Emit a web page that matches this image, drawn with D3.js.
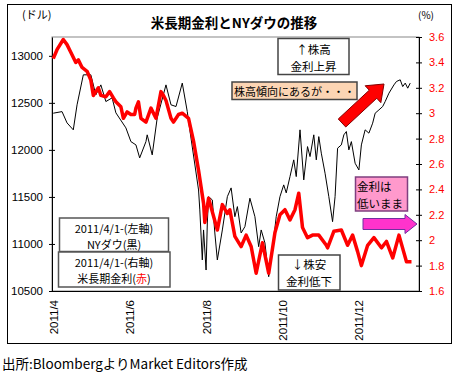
<!DOCTYPE html>
<html>
<head>
<meta charset="utf-8">
<script src="https://cdn.jsdelivr.net/npm/d3@7"></script>
<style>
  body { margin: 0; background: #fff; }
  svg text { font-family: "Liberation Sans", Arial, "Noto Sans CJK JP", sans-serif; }
  .jp { font-family: "Noto Sans CJK JP", sans-serif; }
</style>
</head>
<body>
<svg id="chart" width="456" height="376"></svg>
<script>
// NY Dow (left axis, dollars)
const dowDates = [
  '2011-04-01','2011-04-08','2011-04-12','2011-04-17','2011-04-20','2011-04-25','2011-05-01','2011-05-05',
  '2011-05-09','2011-05-13','2011-05-18','2011-05-21','2011-05-29','2011-06-02','2011-06-06','2011-06-09',
  '2011-06-14','2011-06-15','2011-06-19','2011-06-23','2011-06-30','2011-07-04','2011-07-08','2011-07-13',
  '2011-07-17','2011-07-19','2011-07-26','2011-07-27','2011-07-29','2011-07-30','2011-08-01','2011-08-02',
  '2011-08-03','2011-08-06','2011-08-08','2011-08-10','2011-08-14','2011-08-18','2011-08-21','2011-08-24',
  '2011-08-26','2011-08-29','2011-09-01','2011-09-05','2011-09-09','2011-09-12','2011-09-14','2011-09-17',
  '2011-09-20','2011-09-23','2011-09-26','2011-09-29','2011-10-02','2011-10-04','2011-10-07','2011-10-10',
  '2011-10-12','2011-10-15','2011-10-18','2011-10-21','2011-10-23','2011-10-26','2011-10-28','2011-10-30',
  '2011-11-01','2011-11-04','2011-11-07','2011-11-10','2011-11-12','2011-11-14','2011-11-17','2011-11-19',
  '2011-11-21','2011-11-23','2011-11-25','2011-11-28','2011-12-01','2011-12-03','2011-12-06','2011-12-09',
  '2011-12-12','2011-12-14','2011-12-17','2011-12-20','2011-12-22','2011-12-25','2011-12-29','2011-12-31',
  '2012-01-03','2012-01-05','2012-01-07','2012-01-09','2012-01-11'
];
const dowValues = [
  12390, 12407, 12287, 12213, 12479, 12798, 12798, 12585,
  12691, 12514, 12553, 12394, 12234, 12088, 12053, 11915,
  12088, 12160, 11947, 12340, 12691, 12479, 12461, 12710,
  12407, 12213, 11574, 11362, 10830, 11149, 10723, 11223,
  11503, 11468, 11117, 10830, 11149, 11503, 11596, 11290,
  11397, 11117, 11184, 11486, 11290, 10971, 11149, 11011,
  10652, 10936, 11290, 11503, 11628, 11543, 11716, 11894,
  11716, 12213, 11681, 12035, 11929, 12160, 11894, 12141,
  11965, 11752, 11503, 11237, 11503, 12018, 12053, 12160,
  12195, 12000, 12088, 11858, 11787, 12053, 12213, 12178,
  12284, 12390, 12425, 12461, 12514, 12603, 12691, 12727,
  12745, 12673, 12710, 12656, 12710
];

// US long-term rate (right axis, %)
const yieldDates = [
  '2011-04-01','2011-04-04','2011-04-09','2011-04-12','2011-04-15','2011-04-19','2011-04-21','2011-04-24',
  '2011-04-28','2011-05-01','2011-05-03','2011-05-07','2011-05-09','2011-05-13','2011-05-16','2011-05-19',
  '2011-05-21','2011-05-25','2011-05-27','2011-05-30','2011-06-02','2011-06-05','2011-06-06','2011-06-08',
  '2011-06-10','2011-06-14','2011-06-18','2011-06-22','2011-06-26','2011-06-28','2011-06-30','2011-07-04',
  '2011-07-06','2011-07-10','2011-07-13','2011-07-18','2011-07-22','2011-07-26','2011-07-30','2011-07-31',
  '2011-08-03','2011-08-05','2011-08-10','2011-08-14','2011-08-18','2011-08-20','2011-08-24','2011-08-29',
  '2011-09-02','2011-09-06','2011-09-10','2011-09-15','2011-09-20','2011-09-25','2011-09-29','2011-10-03',
  '2011-10-07','2011-10-11','2011-10-14','2011-10-17','2011-10-21','2011-10-25','2011-10-30','2011-11-05',
  '2011-11-06','2011-11-11','2011-11-17','2011-11-22','2011-11-26','2011-11-30','2011-12-03','2011-12-08',
  '2011-12-13','2011-12-19','2011-12-23','2011-12-28','2012-01-02','2012-01-08','2012-01-12'
];
const yieldValues = [
  3.43, 3.50, 3.58, 3.54, 3.48, 3.40, 3.42, 3.36,
  3.33, 3.26, 3.14, 3.20, 3.14, 3.13, 3.17, 3.12,
  3.09, 3.05, 2.96, 3.01, 2.99, 2.99, 3.04, 3.09,
  2.96, 2.93, 3.04, 2.96, 3.17, 3.14, 3.10, 2.96,
  2.93, 2.99, 3.00, 2.96, 2.78, 2.55, 2.29, 2.14,
  2.33, 2.26, 2.08, 2.28, 2.21, 2.24, 2.03, 1.95,
  2.04, 1.95, 1.74, 1.98, 1.74, 2.06, 2.20, 2.24,
  2.16, 2.24, 2.37, 2.10, 2.02, 2.04, 2.04, 1.96,
  1.94, 2.07, 2.08, 1.96, 2.04, 1.91, 1.80, 1.96,
  2.02, 1.94, 1.99, 1.86, 2.04, 1.83, 1.83
];

const xTickDates = ['2011-04-01', '2011-06-01', '2011-08-01', '2011-10-01', '2011-12-01'];
const leftTicks = [10500, 11000, 11500, 12000, 12500, 13000];
const rightTicks = [1.6, 1.8, 2, 2.2, 2.4, 2.6, 2.8, 3, 3.2, 3.4, 3.6];

const parse = d3.timeParse('%Y-%m-%d');
const plot = { left: 52, right: 419, top: 37, bottom: 291 };

const svg = d3.select('#chart');

// outer frame
svg.append('rect')
  .attr('x', 7.5).attr('y', 4.5).attr('width', 444).attr('height', 339)
  .attr('fill', '#fff').attr('stroke', '#000').attr('stroke-width', 1);

const x = d3.scaleTime()
  .domain([parse('2011-03-31'), parse('2012-01-18')])
  .range([plot.left, plot.right]);
const yLeft = d3.scaleLinear().domain([10500, 13200]).range([plot.bottom, plot.top]);
const yRight = d3.scaleLinear().domain([1.6, 3.6]).range([plot.bottom, plot.top]);

// plot frame
svg.append('rect')
  .attr('x', plot.left).attr('y', plot.top)
  .attr('width', plot.right - plot.left).attr('height', plot.bottom - plot.top)
  .attr('fill', 'none').attr('stroke', '#888').attr('stroke-width', 1);

// left axis
const leftAxis = svg.append('g')
  .attr('transform', `translate(${plot.left},0)`)
  .call(d3.axisLeft(yLeft).tickValues(leftTicks).tickFormat(d3.format('d'))
    .tickSizeInner(3).tickSizeOuter(0).tickPadding(6));
leftAxis.select('.domain').attr('stroke', '#000');
leftAxis.selectAll('.tick line').attr('x2', 3).attr('x1', -3);
leftAxis.selectAll('text').attr('font-size', 11.5).attr('fill', '#000')
  .attr('font-family', '"Liberation Sans", Arial, sans-serif');

// right axis
const rightAxis = svg.append('g')
  .attr('transform', `translate(${plot.right},0)`)
  .call(d3.axisRight(yRight).tickValues(rightTicks).tickFormat(d3.format('~g'))
    .tickSizeInner(3).tickSizeOuter(0).tickPadding(7));
rightAxis.select('.domain').attr('stroke', '#000');
rightAxis.selectAll('.tick line').attr('x1', -3).attr('x2', 3);
rightAxis.selectAll('text').attr('font-size', 11).attr('fill', '#ff0000')
  .attr('font-family', '"Liberation Sans", Arial, sans-serif');

// bottom axis
const xAxis = svg.append('g')
  .attr('transform', `translate(0,${plot.bottom})`)
  .call(d3.axisBottom(x).tickValues(xTickDates.map(parse))
    .tickFormat(d3.timeFormat('%Y/%-m')).tickSize(0).tickSizeOuter(0));
xAxis.select('.domain').attr('stroke', '#000');
xAxis.selectAll('text')
  .attr('font-size', 11.5).attr('fill', '#000')
  .attr('font-family', '"Liberation Sans", Arial, sans-serif')
  .attr('text-anchor', 'end')
  .attr('transform', 'translate(4,9) rotate(-90)')
  .attr('x', 0).attr('y', 0).attr('dy', 0);

// lines
const dowData = dowDates.map((d, i) => ({ date: parse(d), value: dowValues[i] }));
const yieldData = yieldDates.map((d, i) => ({ date: parse(d), value: yieldValues[i] }));

svg.append('path')
  .datum(dowData)
  .attr('fill', 'none')
  .attr('stroke', '#000')
  .attr('stroke-width', 1)
  .attr('d', d3.line().x(d => x(d.date)).y(d => yLeft(d.value)));

svg.append('path')
  .datum(yieldData)
  .attr('fill', 'none')
  .attr('stroke', '#ff0000')
  .attr('stroke-width', 3.5)
  .attr('stroke-linejoin', 'round')
  .attr('d', d3.line().x(d => x(d.date)).y(d => yRight(d.value)));

// titles
svg.append('text').attr('class', 'jp')
  .attr('x', 234).attr('y', 28).attr('text-anchor', 'middle')
  .attr('font-size', 13.5).attr('font-weight', 'bold').text('米長期金利とNYダウの推移');
svg.append('text').attr('class', 'jp')
  .attr('x', 22).attr('y', 19).attr('font-size', 11).text('(ドル)');
svg.append('text').attr('class', 'jp')
  .attr('x', 418).attr('y', 19).attr('font-size', 10).text('(%)');

// footer
svg.append('text').attr('class', 'jp')
  .attr('x', 2).attr('y', 369).attr('font-size', 13.5).text('出所:BloombergよりMarket Editors作成');

// annotation helpers
function box(x0, y0, w, h, fill, stroke) {
  svg.append('rect')
    .attr('x', x0).attr('y', y0).attr('width', w).attr('height', h)
    .attr('fill', fill).attr('stroke', stroke).attr('stroke-width', 1.5);
}
function label(tx, ty, txt, anchor, size) {
  return svg.append('text').attr('class', 'jp')
    .attr('x', tx).attr('y', ty).attr('text-anchor', anchor || 'middle')
    .attr('font-size', size || 11.5).text(txt);
}
function arrow(x0, y0, x1, y1, w, hw, hl, fill, stroke) {
  const len = Math.hypot(x1 - x0, y1 - y0);
  const ux = (x1 - x0) / len, uy = (y1 - y0) / len;
  const nx = -uy, ny = ux;
  const bx = x1 - ux * hl, by = y1 - uy * hl;
  const pts = [
    [x0 + nx * w, y0 + ny * w], [bx + nx * w, by + ny * w], [bx + nx * hw, by + ny * hw],
    [x1, y1],
    [bx - nx * hw, by - ny * hw], [bx - nx * w, by - ny * w], [x0 - nx * w, y0 - ny * w]
  ];
  svg.append('polygon')
    .attr('points', pts.map(p => p.join(',')).join(' '))
    .attr('fill', fill).attr('stroke', stroke).attr('stroke-width', 1);
}

// up box
box(278, 38.5, 71, 36, '#fff', '#444');
label(313.5, 53.5, '↑株高');
label(313.5, 70.5, '金利上昇');

// peach note
box(232, 82, 125, 17.5, '#fcd5b4', '#444');
label(234, 95.5, '株高傾向にあるが・・・', 'start', 11);

arrow(342, 123, 384, 84, 5.5, 11.5, 15, '#ff0000', '#7f0000');

// pink note
box(355.5, 177, 52, 34, '#ff99cc', '#7f3f7f');
label(357, 191, '金利は', 'start', 11.5);
label(357, 208, '低いまま', 'start', 11.5);

arrow(363, 224, 417, 224, 5.5, 9.5, 12, '#ff33cc', '#7030a0');

// legend boxes
box(59.5, 218, 109, 33.5, '#fff', '#555');
label(114, 232.5, '2011/4/1-(左軸)', 'middle', 11);
label(114, 248.5, 'NYダウ(黒)', 'middle', 11);
box(58.5, 252, 111.5, 35, '#fff', '#555');
label(114, 266.5, '2011/4/1-(右軸)', 'middle', 11);
const t = label(114, 282.5, '米長期金利(', 'middle', 11);
t.append('tspan').attr('fill', '#ff0000').text('赤');
t.append('tspan').text(')');

// down box
box(278.5, 255, 61.5, 35, '#fff', '#444');
label(309, 269, '↓株安');
label(309, 286, '金利低下');
</script>
</body>
</html>
